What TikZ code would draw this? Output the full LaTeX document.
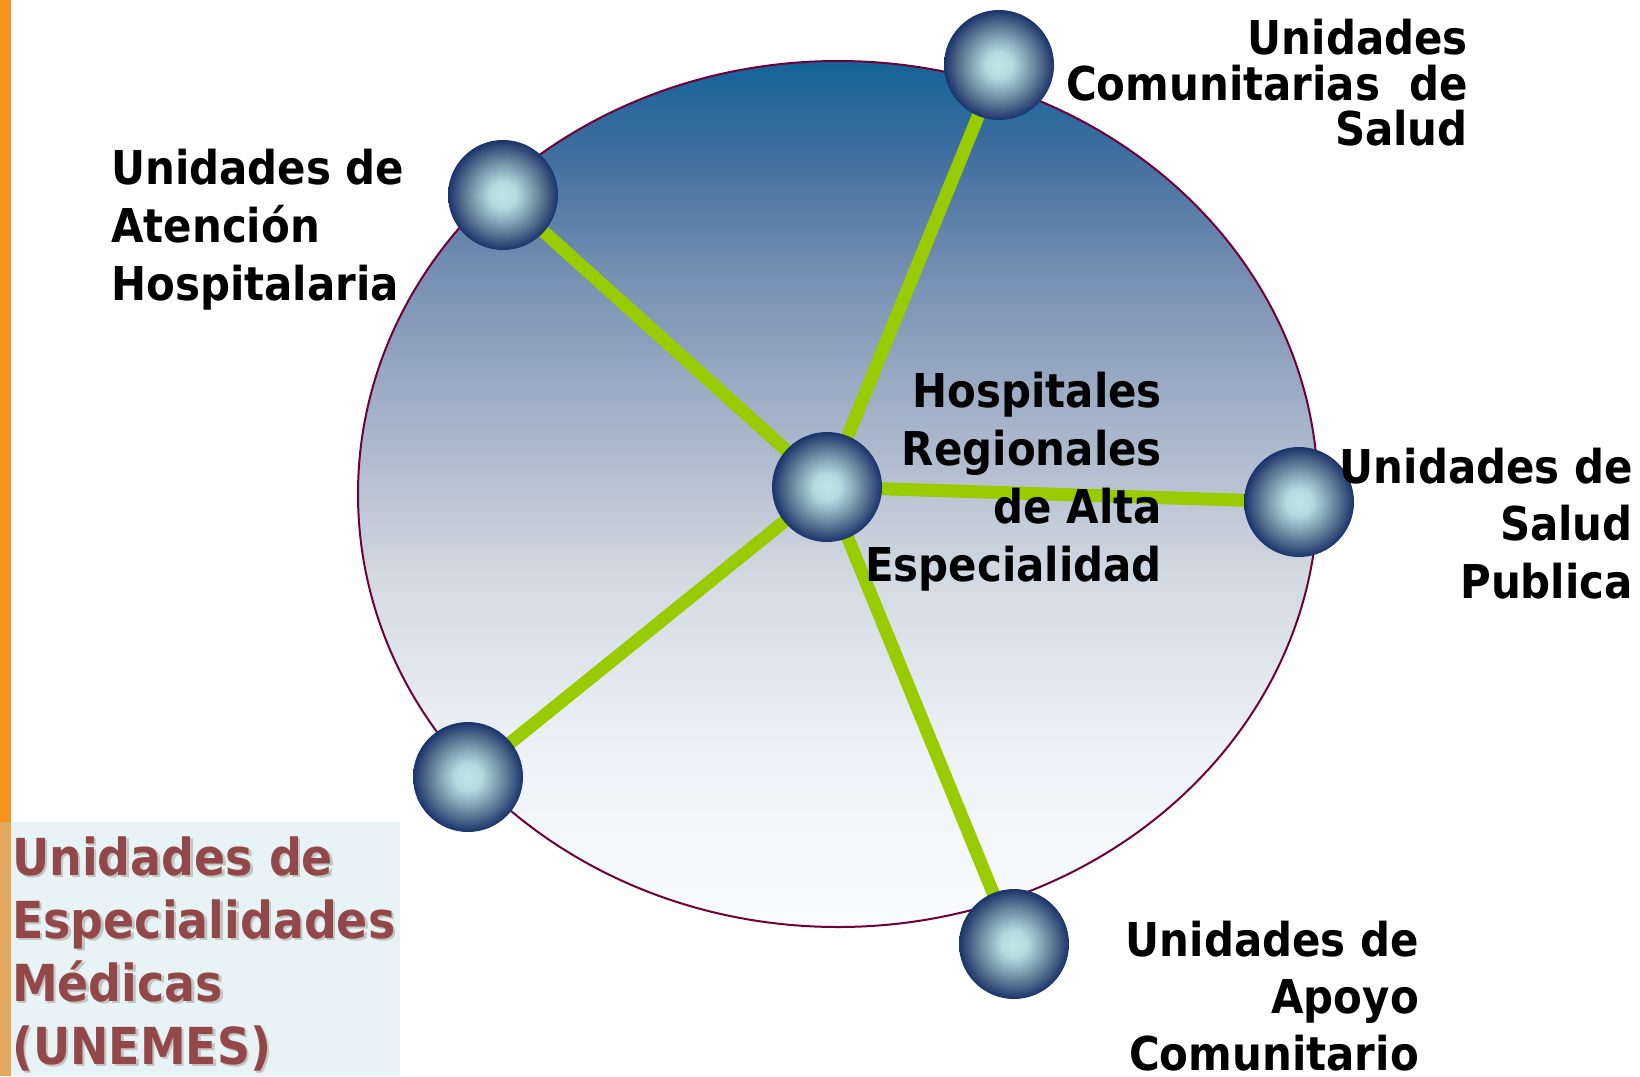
\documentclass[tikz,border=0pt]{standalone}
\usepackage{fontspec}
\setmainfont{DejaVu Sans}[FakeStretch=0.9]
\usetikzlibrary{backgrounds}
\definecolor{orangebar}{HTML}{F7931E}
\definecolor{tanbar}{HTML}{E2A85C}
\definecolor{boxfill}{HTML}{E8F3F5}
\definecolor{maroontxt}{HTML}{924848}
\definecolor{shadowtxt}{HTML}{C4C4C4}
\definecolor{ellline}{HTML}{700038}
\definecolor{linkgreen}{HTML}{99CC00}
\pgfdeclareverticalshading{ellgrad}{100bp}{rgb(0bp)=(0.98,0.99,1); rgb(25bp)=(0.98,0.99,1); rgb(35bp)=(0.93,0.95,0.965); rgb(45bp)=(0.83,0.855,0.89); rgb(50bp)=(0.73,0.77,0.83); rgb(55bp)=(0.63,0.69,0.78); rgb(62.5bp)=(0.47,0.565,0.70); rgb(70bp)=(0.24,0.43,0.62); rgb(75bp)=(0.08,0.39,0.60); rgb(100bp)=(0.08,0.39,0.60)}
\pgfdeclareradialshading{sphereshade}{\pgfpoint{0bp}{0bp}}{rgb(0bp)=(0.75,0.9,0.91); rgb(6bp)=(0.71,0.86,0.88); rgb(13bp)=(0.5,0.63,0.7); rgb(19bp)=(0.32,0.42,0.55); rgb(25bp)=(0.1,0.2,0.42); rgb(50bp)=(0.1,0.2,0.42)}
\newcommand\rlines[1]{\vtop{\halign{\hfil##\cr#1\crcr}}}
\newcommand\llines[1]{\vtop{\halign{##\hfil\cr#1\crcr}}}
\tikzset{
  sphere/.style={circle, minimum size=110pt, inner sep=0pt, shade, shading=sphereshade},
  link/.style={draw=linkgreen, line width=13pt},
  lbl/.style={inner sep=0pt, text=black, font=\bfseries\fontsize{46.6}{58}\selectfont},
}
\begin{document}
\begin{tikzpicture}[x=1pt,y=-1pt]
\useasboundingbox (0,0) rectangle (1640,1076);
% spheres
\node[sphere] (c) at (827,487) {};
\node[sphere] (t) at (999,65) {};
\node[sphere] (ul) at (503,195) {};
\node[sphere] (r) at (1299,502) {};
\node[sphere] (bl) at (468,777) {};
\node[sphere] (b) at (1014,944) {};
\begin{scope}[on background layer]
  \fill[white] (0,0) rectangle (1640,1076);
  \fill[orangebar] (0,0) rectangle (11,822);
  \fill[tanbar] (0,822) rectangle (11,1076);
  \fill[boxfill] (11,822) rectangle (400,1076);
  \shadedraw[shading=ellgrad, draw=ellline, line width=2pt] (838,494) ellipse [x radius=480pt, y radius=433pt];
  \draw[link] (c.center) -- (t.center);
  \draw[link] (c.center) -- (ul.center);
  \draw[link] (c.center) -- (r.center);
  \draw[link] (c.center) -- (bl.center);
  \draw[link] (c.center) -- (b.center);
\end{scope}
% labels
\node[lbl, anchor=base west] (lul) at (111,184) {\llines{Unidades de\cr Atención\cr Hospitalaria}};
\node[lbl, anchor=base east, font=\bfseries\fontsize{46.6}{45.5}\selectfont] (lt) at (1468,54.5) {\rlines{Unidades\cr Comunitarias\ \ de\cr Salud}};
\node[lbl, anchor=base east] (lc) at (1162,407) {\rlines{Hospitales\cr Regionales\cr de Alta\cr Especialidad}};
\node[lbl, anchor=base east, font=\bfseries\fontsize{46.6}{57.5}\selectfont] (lr) at (1633,483) {\rlines{Unidades de\cr Salud\cr Publica}};
\node[lbl, anchor=base east, font=\bfseries\fontsize{46.6}{57}\selectfont] (lb) at (1419,956) {\rlines{Unidades de\cr Apoyo\cr Comunitario}};
\node[lbl, anchor=base west, text=shadowtxt, font=\bfseries\fontsize{51}{63}\selectfont] (unemesshadow) at (14.5,877.5) {\llines{Unidades de\cr Especialidades\cr Médicas\cr (UNEMES)}};
\node[lbl, anchor=base west, text=maroontxt, font=\bfseries\fontsize{51}{63}\selectfont] (unemes) at (12,875) {\llines{Unidades de\cr Especialidades\cr Médicas\cr (UNEMES)}};
\end{tikzpicture}
\end{document}
